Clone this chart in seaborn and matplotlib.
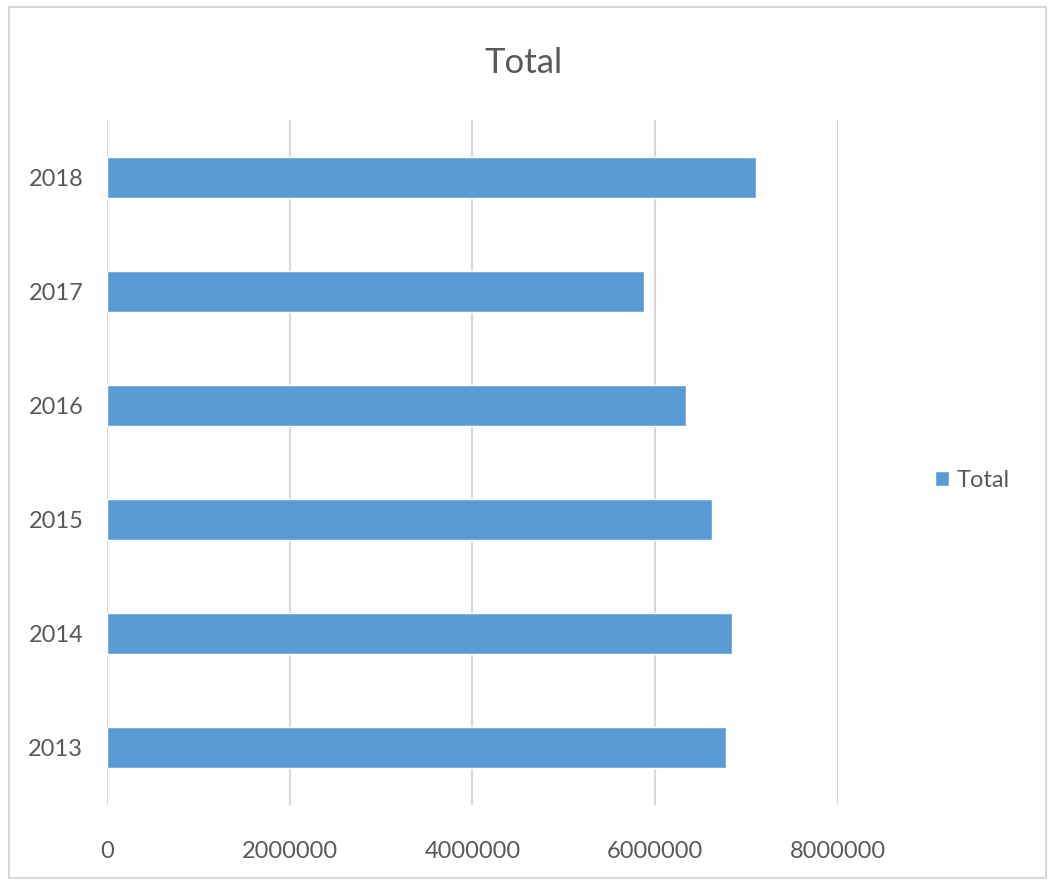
import matplotlib
matplotlib.use("Agg")
import matplotlib.pyplot as plt
import matplotlib.patches as mpatches
import pandas as pd
import seaborn as sns

years = ["2013", "2014", "2015", "2016", "2017", "2018"]
totals = [6780000, 6840000, 6620000, 6340000, 5880000, 7100000]
x_ticks = [0, 2000000, 4000000, 6000000, 8000000]

BAR_COLOR = "#5b9bd5"
GRID_COLOR = "#d9d9d9"
TEXT_COLOR = "#595959"

df = pd.DataFrame({"year": years, "total": totals})

sns.set_theme(style="white")
plt.rcParams["font.family"] = ["Lato", "DejaVu Sans"]

fig = plt.figure(figsize=(10.54, 8.84), dpi=100)
ax = fig.add_axes([0.1015, 0.0894, 0.6935, 0.7746])

sns.barplot(
    data=df,
    x="total",
    y="year",
    order=years[::-1],
    color=BAR_COLOR,
    saturation=1,
    width=0.36,
    label="Total",
    ax=ax,
)

ax.set_xlim(0, 8000000)
ax.set_ylim(5.5, -0.5)
ax.set_xticks(x_ticks)
ax.set_xticklabels([str(v) for v in x_ticks])
ax.xaxis.grid(True, color=GRID_COLOR, linewidth=1.5)
ax.set_axisbelow(True)
ax.tick_params(axis="both", length=0, labelsize=17, colors=TEXT_COLOR)
ax.tick_params(axis="x", pad=26)
ax.tick_params(axis="y", pad=17)
ax.set_xlabel("")
ax.set_ylabel("")
for side in ["top", "right", "bottom", "left"]:
    ax.spines[side].set_visible(False)

fig.text(0.497, 0.929, "Total", ha="center", va="center", fontsize=25, color=TEXT_COLOR)

# legend sits outside the plot area on the right, like Excel's
handles, labels = ax.get_legend_handles_labels()
if ax.get_legend() is not None:
    ax.get_legend().remove()
fig.legend(
    handles,
    labels,
    loc="center left",
    bbox_to_anchor=(0.867, 0.457),
    frameon=False,
    fontsize=17,
    labelcolor=TEXT_COLOR,
    handlelength=0.6,
    handleheight=0.6,
    handletextpad=0.3,
)

fig.patches.append(
    mpatches.Rectangle(
        (0.009, 0.007), 0.983, 0.985,
        transform=fig.transFigure, fill=False,
        edgecolor=GRID_COLOR, linewidth=1.5,
    )
)

fig.savefig("out.png", dpi=100, facecolor="white")
